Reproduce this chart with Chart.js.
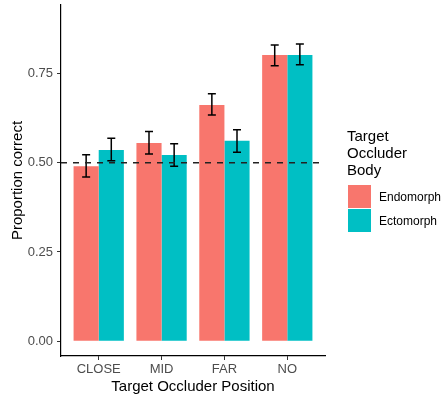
<!DOCTYPE html>
<html lang="en">
<head>
    <meta charset="UTF-8">
    <title>Proportion correct by occluder position</title>
    <script src="https://cdn.jsdelivr.net/npm/chart.js"></script>
    <style>
        body { margin: 0; background: #fff; }
        #chart { display: block; }
    </style>
</head>
<body>
    <canvas id="chart" width="444" height="398"></canvas>
    <script>
        const categories = ['CLOSE', 'MID', 'FAR', 'NO'];
        const seriesNames = ['Endomorph', 'Ectomorph'];
        const seriesColors = ['#F8766D', '#00BFC4'];

        const endomorph = [0.490, 0.555, 0.661, 0.801];
        const endomorphLow = [0.460, 0.524, 0.633, 0.771];
        const endomorphHigh = [0.522, 0.587, 0.693, 0.829];

        const ectomorph = [0.535, 0.521, 0.561, 0.801];
        const ectomorphLow = [0.505, 0.490, 0.529, 0.774];
        const ectomorphHigh = [0.568, 0.553, 0.592, 0.832];

        const yTicks = [0, 0.25, 0.5, 0.75];
        const chanceLevel = 0.5;

        const lows = [endomorphLow, ectomorphLow];
        const highs = [endomorphHigh, ectomorphHigh];

        const font = "'Liberation Sans', Arial, sans-serif";

        // error bars and dashed chance line
        const overlay = {
            id: 'overlay',
            afterDatasetsDraw(chart) {
                const ctx = chart.ctx;
                const y = chart.scales.y;
                const area = chart.chartArea;
                ctx.save();
                ctx.strokeStyle = '#000';
                ctx.lineWidth = 1.5;
                chart.data.datasets.forEach((ds, i) => {
                    chart.getDatasetMeta(i).data.forEach((bar, j) => {
                        const top = y.getPixelForValue(highs[i][j]);
                        const bot = y.getPixelForValue(lows[i][j]);
                        const half = 4;
                        ctx.beginPath();
                        ctx.moveTo(bar.x, top); ctx.lineTo(bar.x, bot);
                        ctx.moveTo(bar.x - half, top); ctx.lineTo(bar.x + half, top);
                        ctx.moveTo(bar.x - half, bot); ctx.lineTo(bar.x + half, bot);
                        ctx.stroke();
                    });
                });
                const yc = y.getPixelForValue(chanceLevel);
                ctx.strokeStyle = '#222';
                ctx.setLineDash([6, 6]);
                ctx.beginPath();
                ctx.moveTo(area.left, yc);
                ctx.lineTo(area.right, yc);
                ctx.stroke();
                ctx.restore();
            }
        };

        // ggplot-style legend on the right
        const sideLegend = {
            id: 'sideLegend',
            afterDraw(chart) {
                const ctx = chart.ctx;
                ctx.save();
                ctx.fillStyle = '#000';
                ctx.font = '15px ' + font;
                ctx.textBaseline = 'alphabetic';
                ['Target', 'Occluder', 'Body'].forEach((t, k) => {
                    ctx.fillText(t, 347, 141 + k * 16.8);
                });
                chart.data.datasets.forEach((ds, i) => {
                    const top = 185 + i * 24;
                    ctx.fillStyle = ds.backgroundColor;
                    ctx.fillRect(348, top, 23, 23);
                    ctx.fillStyle = '#000';
                    ctx.font = '12px ' + font;
                    ctx.fillText(ds.label, 379, top + 16);
                });
                ctx.restore();
            }
        };

        const toPoints = arr => arr.map((v, j) => ({ x: j + 1, y: v }));

        new Chart(document.getElementById('chart'), {
            type: 'bar',
            data: {
                datasets: [
                    { label: seriesNames[0], data: toPoints(endomorph), backgroundColor: seriesColors[0] },
                    { label: seriesNames[1], data: toPoints(ectomorph), backgroundColor: seriesColors[1] }
                ]
            },
            options: {
                responsive: false,
                animation: false,
                devicePixelRatio: 1,
                categoryPercentage: 0.8,
                barPercentage: 1.0,
                layout: { padding: { left: 0, top: 5, right: 119, bottom: 0 } },
                plugins: {
                    legend: { display: false },
                    tooltip: { enabled: false }
                },
                scales: {
                    x: {
                        type: 'linear',
                        offset: false,
                        min: 0.4,
                        max: 4.6,
                        afterBuildTicks: s => { s.ticks = categories.map((c, j) => ({ value: j + 1 })); },
                        afterFit: s => { s.height = 42; s.paddingLeft = 0; s.paddingRight = 0; },
                        ticks: {
                            callback: v => categories[v - 1],
                            color: '#4D4D4D',
                            font: { family: font, size: 13 },
                            padding: 2,
                            maxRotation: 0,
                            autoSkip: false
                        },
                        grid: { offset: false, drawOnChartArea: false, drawTicks: true, tickLength: 4, color: '#333' },
                        border: { display: true, color: '#000', width: 1.2 },
                        title: {
                            display: true,
                            text: 'Target Occluder Position',
                            color: '#000',
                            font: { family: font, size: 15 },
                            padding: { top: 0, bottom: 2 }
                        }
                    },
                    y: {
                        min: -0.041,
                        max: 0.941,
                        afterBuildTicks: s => { s.ticks = yTicks.map(v => ({ value: v })); },
                        afterFit: s => { s.width = 61; s.paddingTop = 0; s.paddingBottom = 0; },
                        ticks: {
                            callback: v => v.toFixed(2),
                            color: '#4D4D4D',
                            font: { family: font, size: 13 },
                            padding: 4
                        },
                        grid: { drawOnChartArea: false, drawTicks: true, tickLength: 4, color: '#333' },
                        border: { display: true, color: '#000', width: 1.2 },
                        title: {
                            display: true,
                            text: 'Proportion correct',
                            color: '#000',
                            font: { family: font, size: 15 },
                            padding: { top: 9, bottom: 0 }
                        }
                    }
                }
            },
            plugins: [overlay, sideLegend]
        });
    </script>
</body>
</html>
